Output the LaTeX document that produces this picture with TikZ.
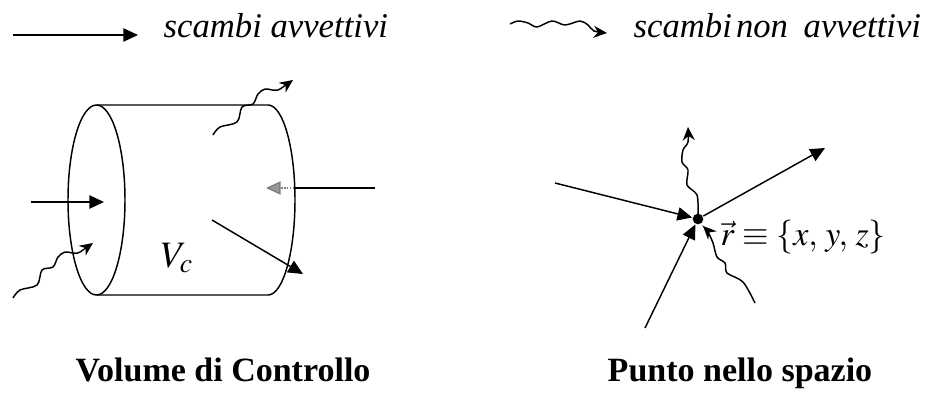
\documentclass[tikz,border=0pt]{standalone}
\usepackage{mathptmx}
\usepackage[no-math]{fontspec}
\setmainfont{Liberation Serif}
\usetikzlibrary{arrows.meta}

\begin{document}
\begin{tikzpicture}[
  x=0.75pt, y=-0.75pt, line width=1.1pt,
  arr/.style={-{Triangle[length=11pt,width=10pt]}},
  wav/.style={-{Stealth[length=10pt,width=9pt]}},
  leg/.style={font=\fontsize{26}{28}\selectfont\itshape, inner sep=0pt},
  ttl/.style={font=\fontsize{25.5}{28}\selectfont\bfseries, inner sep=0pt}
]
\useasboundingbox (0,0) rectangle (930,392);
% ---- legend -----------------------------------------------------------------
\coordinate (l1a) at (13,35);
\coordinate (l1b) at (138,35);
\draw[arr] (l1a) -- (l1b);
\node[leg, anchor=base west] (advlab) at (163,38) {scambi avvettivi};
\coordinate (l2a) at (510,24);
\draw[wav, shift={(l2a)}] plot[smooth] coordinates
  {(0,0) (8,-3) (18,-1) (27,3) (42,-3) (55,1) (70,-3) (78,1) (84,7) (97,9)};
\node[leg, anchor=base west] (nadvlab) at (633,38) {scambi\hspace{0.12em}non\hspace{0.45em}avvettivi};

% ---- control volume ---------------------------------------------------------
\coordinate (cylL) at (96.5,200);
\coordinate (cylR) at (268,200);
\draw (cylL) circle[x radius=28.5, y radius=95];
\draw (96.5,105) -- (268,105) arc[start angle=-90, end angle=90, x radius=27, y radius=95] -- (96.5,295);
\node[font=\fontsize{28}{30}\selectfont, inner sep=0pt, anchor=base west] (vc) at (160,267) {$V_c$};

\coordinate (inA) at (31,202);
\coordinate (inB) at (104,202);
\draw[arr] (inA) -- (inB);
\coordinate (grA) at (375,188);
\coordinate (grM) at (294,188);
\coordinate (grB) at (266,188);
\draw (grA) -- (grM);
\draw[gray, densely dotted, -{Triangle[length=11pt,width=10pt,fill=gray!80]}] (grM) -- (grB);
\coordinate (outA) at (212,220);
\coordinate (outB) at (303,274);
\draw[arr] (outA) -- (outB);

\coordinate (wA) at (13,298);
\coordinate (wB) at (213,135);
\foreach \s in {wA,wB}
  \draw[wav, shift={(\s)}] plot[smooth, tension=0.55] coordinates
    {(0,0) (7,-8) (24,-13) (29,-28) (40,-31) (45,-41) (52,-46) (59,-45) (65,-45) (70,-48) (80,-55)};
\node[ttl, anchor=base west] (cvlab) at (75,381) {Volume di Controllo};

% ---- point ------------------------------------------------------------------
\node[circle, fill, inner sep=0pt, minimum size=8pt] (pt) at (698,219) {};
\node[font=\fontsize{25.5}{28}\selectfont, inner sep=0pt, anchor=base west] (rlab) at (720,245)
  {$\vec{r}\equiv\{x,\,y,\,z\}$};
\coordinate (sA) at (555,183);
\coordinate (sB) at (825,148);
\coordinate (sC) at (645,328);
\draw[arr] (sA) -- (pt);
\draw[arr] (pt) -- (sB);
\draw[arr] (sC) -- (pt);
\draw[wav] plot[smooth, tension=0.5] coordinates
  {(698,214) (697,195) (687,185) (688,170) (682,162) (683,150) (688,142) (688,127)};
\draw[wav] plot[smooth, tension=0.5] coordinates
  {(755,303) (743,282) (727,273) (725,263) (717,257) (713,243) (708,232) (703,226)};
\node[ttl, anchor=base west] (ptlab) at (607,381) {Punto nello spazio};
\end{tikzpicture}
\end{document}
